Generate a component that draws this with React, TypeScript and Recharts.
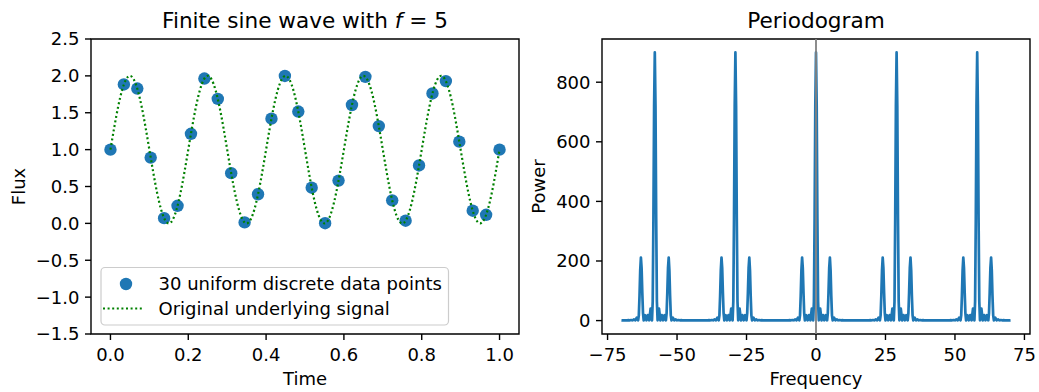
import React from 'react';
import {
  ComposedChart,
  LineChart,
  Line,
  Scatter,
  XAxis,
  YAxis,
  ReferenceLine,
  ReferenceArea,
} from 'recharts';

const FONT = "'DejaVu Sans', 'Liberation Sans', sans-serif";
const BLUE = '#1f77b4';
const GREEN = '#008000';

// ---------- Left panel: discrete samples ----------
const sampleTimes = [
  0, 0.0345, 0.069, 0.1034, 0.1379, 0.1724, 0.2069, 0.2414, 0.2759, 0.3103,
  0.3448, 0.3793, 0.4138, 0.4483, 0.4828, 0.5172, 0.5517, 0.5862, 0.6207, 0.6552,
  0.6897, 0.7241, 0.7586, 0.7931, 0.8276, 0.8621, 0.8966, 0.931, 0.9655, 1,
];
const sampleFlux = [
  1.0, 1.884, 1.828, 0.892, 0.071, 0.238, 1.215, 1.964, 1.688, 0.681,
  0.013, 0.395, 1.42, 1.999, 1.516, 0.484, 0.002, 0.58, 1.605, 1.987,
  1.319, 0.312, 0.036, 0.785, 1.762, 1.929, 1.108, 0.172, 0.116, 1.0,
];

// ---------- Left panel: underlying signal ----------
const signalTimes = [
  0, 0.01, 0.02, 0.03, 0.04, 0.05, 0.06, 0.07, 0.08, 0.09,
  0.1, 0.11, 0.12, 0.13, 0.14, 0.15, 0.16, 0.17, 0.18, 0.19,
  0.2, 0.21, 0.22, 0.23, 0.24, 0.25, 0.26, 0.27, 0.28, 0.29,
  0.3, 0.31, 0.32, 0.33, 0.34, 0.35, 0.36, 0.37, 0.38, 0.39,
  0.4, 0.41, 0.42, 0.43, 0.44, 0.45, 0.46, 0.47, 0.48, 0.49,
  0.5, 0.51, 0.52, 0.53, 0.54, 0.55, 0.56, 0.57, 0.58, 0.59,
  0.6, 0.61, 0.62, 0.63, 0.64, 0.65, 0.66, 0.67, 0.68, 0.69,
  0.7, 0.71, 0.72, 0.73, 0.74, 0.75, 0.76, 0.77, 0.78, 0.79,
  0.8, 0.81, 0.82, 0.83, 0.84, 0.85, 0.86, 0.87, 0.88, 0.89,
  0.9, 0.91, 0.92, 0.93, 0.94, 0.95, 0.96, 0.97, 0.98, 0.99,
  1.0,
];
const signalFlux = [
  1, 1.309, 1.588, 1.809, 1.951, 2, 1.951, 1.809, 1.588, 1.309,
  1, 0.691, 0.412, 0.191, 0.049, 0, 0.049, 0.191, 0.412, 0.691,
  1, 1.309, 1.588, 1.809, 1.951, 2, 1.951, 1.809, 1.588, 1.309,
  1, 0.691, 0.412, 0.191, 0.049, 0, 0.049, 0.191, 0.412, 0.691,
  1, 1.309, 1.588, 1.809, 1.951, 2, 1.951, 1.809, 1.588, 1.309,
  1, 0.691, 0.412, 0.191, 0.049, 0, 0.049, 0.191, 0.412, 0.691,
  1, 1.309, 1.588, 1.809, 1.951, 2, 1.951, 1.809, 1.588, 1.309,
  1, 0.691, 0.412, 0.191, 0.049, 0, 0.049, 0.191, 0.412, 0.691,
  1, 1.309, 1.588, 1.809, 1.951, 2, 1.951, 1.809, 1.588, 1.309,
  1, 0.691, 0.412, 0.191, 0.049, 0, 0.049, 0.191, 0.412, 0.691,
  1,
];

const timeTicks = [0, 0.2, 0.4, 0.6, 0.8, 1.0];
const fluxTicks = [-1.5, -1, -0.5, 0, 0.5, 1, 1.5, 2, 2.5];

// ---------- Right panel: periodogram ----------
const freqM58 = [
  -70, -69.5, -68.5, -68, -67.5, -67, -66.5, -66, -65.5, -65, -64.5, -64,
  -63.75, -63.5, -63.25, -63, -62.75, -62.5, -62.25, -62,
  -61.5, -61, -60.5, -60, -59.5, -59, -58.75, -58.5, -58.25,
  -58,
  -57.75, -57.5, -57.25, -57, -56.5, -56, -55.5, -55, -54.5,
  -54, -53.75, -53.5, -53.25, -53, -52.75, -52.5, -52.25,
  -52, -51.5, -51, -50.5, -50, -49.5, -49, -48.5, -48, -47.5, -46.5, -45.5, -44.5, -43.5,
];
const powerM58 = [
  1, 0.6, 0.8, 1, 1.3, 1, 2, 1, 3.8, 1, 9.7, 1,
  17.6, 83, 169.1, 211.3, 175.9, 94.2, 25.4, 1,
  18.1, 1, 18.2, 1, 40.6, 1, 65, 343, 720,
  900,
  720, 343, 65, 1, 40.6, 1, 18.2, 1, 18.1,
  1, 25.4, 94.2, 175.9, 211.3, 169.1, 83, 17.6,
  1, 9.7, 1, 3.8, 1, 2, 1, 1.3, 1, 0.8, 0.6, 0.5, 0.4, 0.4,
];
const freqM29 = [
  -42.5, -41.5, -40.5, -39.5, -39, -38.5, -38, -37.5, -37, -36.5, -36, -35.5, -35,
  -34.75, -34.5, -34.25, -34, -33.75, -33.5, -33.25, -33,
  -32.5, -32, -31.5, -31, -30.5, -30, -29.75, -29.5, -29.25,
  -29,
  -28.75, -28.5, -28.25, -28, -27.5, -27, -26.5, -26, -25.5,
  -25, -24.75, -24.5, -24.25, -24, -23.75, -23.5, -23.25,
  -23, -22.5, -22, -21.5, -21, -20.5, -20, -19.5, -19, -18.5, -17.5, -16.5, -15.5, -14.5,
];
const powerM29 = [
  0.4, 0.5, 0.6, 0.8, 1, 1.3, 1, 2, 1, 3.8, 1, 9.7, 1,
  17.6, 83, 169.1, 211.3, 175.9, 94.2, 25.4, 1,
  18.1, 1, 18.2, 1, 40.6, 1, 65, 343, 720,
  900,
  720, 343, 65, 1, 40.6, 1, 18.2, 1, 18.1,
  1, 25.4, 94.2, 175.9, 211.3, 169.1, 83, 17.6,
  1, 9.7, 1, 3.8, 1, 2, 1, 1.3, 1, 0.8, 0.6, 0.5, 0.4, 0.4,
];
const freqZero = [
  -13.5, -12.5, -11.5, -10.5, -10, -9.5, -9, -8.5, -8, -7.5, -7, -6.5, -6,
  -5.75, -5.5, -5.25, -5, -4.75, -4.5, -4.25, -4,
  -3.5, -3, -2.5, -2, -1.5, -1, -0.75, -0.5, -0.25,
  0,
  0.25, 0.5, 0.75, 1, 1.5, 2, 2.5, 3, 3.5,
  4, 4.25, 4.5, 4.75, 5, 5.25, 5.5, 5.75,
  6, 6.5, 7, 7.5, 8, 8.5, 9, 9.5, 10, 10.5, 11.5, 12.5, 13.5, 14.5,
];
const powerZero = [
  0.4, 0.5, 0.6, 0.8, 1, 1.3, 1, 2, 1, 3.8, 1, 9.7, 1,
  17.6, 83, 169.1, 211.3, 175.9, 94.2, 25.4, 1,
  18.1, 1, 18.2, 1, 40.6, 1, 65, 343, 720,
  900,
  720, 343, 65, 1, 40.6, 1, 18.2, 1, 18.1,
  1, 25.4, 94.2, 175.9, 211.3, 169.1, 83, 17.6,
  1, 9.7, 1, 3.8, 1, 2, 1, 1.3, 1, 0.8, 0.6, 0.5, 0.4, 0.4,
];
const freqP29 = [
  15.5, 16.5, 17.5, 18.5, 19, 19.5, 20, 20.5, 21, 21.5, 22, 22.5, 23,
  23.25, 23.5, 23.75, 24, 24.25, 24.5, 24.75, 25,
  25.5, 26, 26.5, 27, 27.5, 28, 28.25, 28.5, 28.75,
  29,
  29.25, 29.5, 29.75, 30, 30.5, 31, 31.5, 32, 32.5,
  33, 33.25, 33.5, 33.75, 34, 34.25, 34.5, 34.75,
  35, 35.5, 36, 36.5, 37, 37.5, 38, 38.5, 39, 39.5, 40.5, 41.5, 42.5, 43.5,
];
const powerP29 = [
  0.4, 0.5, 0.6, 0.8, 1, 1.3, 1, 2, 1, 3.8, 1, 9.7, 1,
  17.6, 83, 169.1, 211.3, 175.9, 94.2, 25.4, 1,
  18.1, 1, 18.2, 1, 40.6, 1, 65, 343, 720,
  900,
  720, 343, 65, 1, 40.6, 1, 18.2, 1, 18.1,
  1, 25.4, 94.2, 175.9, 211.3, 169.1, 83, 17.6,
  1, 9.7, 1, 3.8, 1, 2, 1, 1.3, 1, 0.8, 0.6, 0.5, 0.4, 0.4,
];
const freqP58 = [
  44.5, 45.5, 46.5, 47.5, 48, 48.5, 49, 49.5, 50, 50.5, 51, 51.5, 52,
  52.25, 52.5, 52.75, 53, 53.25, 53.5, 53.75, 54,
  54.5, 55, 55.5, 56, 56.5, 57, 57.25, 57.5, 57.75,
  58,
  58.25, 58.5, 58.75, 59, 59.5, 60, 60.5, 61, 61.5,
  62, 62.25, 62.5, 62.75, 63, 63.25, 63.5, 63.75,
  64, 64.5, 65, 65.5, 66, 66.5, 67, 67.5, 68, 68.5, 69.5, 70,
];
const powerP58 = [
  0.4, 0.5, 0.6, 0.8, 1, 1.3, 1, 2, 1, 3.8, 1, 9.7, 1,
  17.6, 83, 169.1, 211.3, 175.9, 94.2, 25.4, 1,
  18.1, 1, 18.2, 1, 40.6, 1, 65, 343, 720,
  900,
  720, 343, 65, 1, 40.6, 1, 18.2, 1, 18.1,
  1, 25.4, 94.2, 175.9, 211.3, 169.1, 83, 17.6,
  1, 9.7, 1, 3.8, 1, 2, 1, 1.3, 1, 0.8, 0.6, 1,
];

const freqTicks = [-75, -50, -25, 0, 25, 50, 75];
const powerTicks = [0, 200, 400, 600, 800];

// ---------- assembled tables ----------
const samples = sampleTimes.map((t, i) => ({ t, flux: sampleFlux[i] }));
const signal = signalTimes.map((t, i) => ({ t, flux: signalFlux[i] }));
const periodogram = [
  [freqM58, powerM58],
  [freqM29, powerM29],
  [freqZero, powerZero],
  [freqP29, powerP29],
  [freqP58, powerP58],
].flatMap(([fs, ps]) => fs.map((f, i) => ({ f, p: ps[i] })));

const minus = (v: number, digits: number) =>
  (v < 0 ? '\u2212' : '') + Math.abs(v).toFixed(digits);

const tickStyle = { fontSize: 18, fill: '#000', fontFamily: FONT };
const tickLineStyle = { stroke: '#000', strokeWidth: 1.4 };

const SampleDot = (props: any) => {
  const { cx, cy } = props;
  if (cx == null || cy == null) return null;
  return <circle cx={cx} cy={cy} r={6.2} fill={BLUE} />;
};

export default function App() {
  return (
    <div
      style={{
        position: 'absolute',
        left: 0,
        top: 0,
        width: 1039,
        height: 392,
        background: '#fff',
        overflow: 'hidden',
      }}
    >
      <div style={{ position: 'absolute', left: 0, top: 0 }}>
        <ComposedChart
          width={520}
          height={392}
          margin={{ top: 39, right: 1, bottom: 28, left: 31 }}
        >
          <XAxis
            dataKey="t"
            type="number"
            domain={[-0.05, 1.05]}
            ticks={timeTicks}
            allowDataOverflow
            tickFormatter={(v: number) => minus(v, 1)}
            tick={tickStyle}
            tickLine={tickLineStyle}
            axisLine={false}
            tickSize={6}
            tickMargin={8}
            height={30}
            interval={0}
          />
          <YAxis
            type="number"
            domain={[-1.5, 2.5]}
            ticks={fluxTicks}
            allowDataOverflow
            tickFormatter={(v: number) => minus(v, 1)}
            tick={tickStyle}
            tickLine={tickLineStyle}
            axisLine={false}
            tickSize={6}
            tickMargin={5.5}
            width={60}
            interval={0}
          />
          <ReferenceArea
            x1={-0.05}
            x2={1.05}
            y1={-1.5}
            y2={2.5}
            fill="none"
            stroke="#000"
            strokeWidth={1.4}
          />
          <Scatter
            data={samples}
            dataKey="flux"
            shape={SampleDot}
            isAnimationActive={false}
          />
          <Line
            data={signal}
            dataKey="flux"
            type="natural"
            stroke={GREEN}
            strokeWidth={2.2}
            strokeDasharray="2 2.6"
            dot={false}
            activeDot={false}
            isAnimationActive={false}
            zIndex={700}
          />
        </ComposedChart>
      </div>

      <div style={{ position: 'absolute', left: 520, top: 0 }}>
        <LineChart
          width={519}
          height={392}
          data={periodogram}
          margin={{ top: 39, right: 9, bottom: 28, left: 22 }}
        >
          <XAxis
            dataKey="f"
            type="number"
            domain={[-77, 77]}
            ticks={freqTicks}
            allowDataOverflow
            tickFormatter={(v: number) => minus(v, 0)}
            tick={tickStyle}
            tickLine={tickLineStyle}
            axisLine={false}
            tickSize={6}
            tickMargin={8}
            height={30}
            interval={0}
          />
          <YAxis
            type="number"
            domain={[-45, 945]}
            ticks={powerTicks}
            allowDataOverflow
            tickFormatter={(v: number) => minus(v, 0)}
            tick={tickStyle}
            tickLine={tickLineStyle}
            axisLine={false}
            tickSize={6}
            tickMargin={5.5}
            width={60}
            interval={0}
          />
          <ReferenceArea
            x1={-77}
            x2={77}
            y1={-45}
            y2={945}
            fill="none"
            stroke="#000"
            strokeWidth={1.4}
          />
          <Line
            dataKey="p"
            type="linear"
            stroke={BLUE}
            strokeWidth={2.7}
            strokeLinejoin="round"
            dot={false}
            activeDot={false}
            isAnimationActive={false}
          />
          <ReferenceLine x={0} stroke="#808080" strokeWidth={1.8} zIndex={800} />
        </LineChart>
      </div>

      <svg
        width={1039}
        height={392}
        style={{ position: 'absolute', left: 0, top: 0, pointerEvents: 'none' }}
        fontFamily={FONT}
      >
        <text x={305} y={28} fontSize={21.6} textAnchor="middle" fill="#000">
          Finite sine wave with <tspan fontStyle="italic">f</tspan> = 5
        </text>
        <text x={816} y={28} fontSize={21.6} textAnchor="middle" fill="#000">
          Periodogram
        </text>
        <text x={305} y={385} fontSize={18} textAnchor="middle" fill="#000">
          Time
        </text>
        <text x={816} y={385} fontSize={18} textAnchor="middle" fill="#000">
          Frequency
        </text>
        <text
          x={25}
          y={186.5}
          fontSize={18}
          textAnchor="middle"
          fill="#000"
          transform="rotate(-90 25 186.5)"
        >
          Flux
        </text>
        <text
          x={545}
          y={186.5}
          fontSize={18}
          textAnchor="middle"
          fill="#000"
          transform="rotate(-90 545 186.5)"
        >
          Power
        </text>

        <g>
          <rect
            x={101}
            y={267.5}
            width={347.5}
            height={57.5}
            rx={4}
            fill="#fff"
            fillOpacity={0.8}
            stroke="#cccccc"
            strokeWidth={1.2}
          />
          <circle cx={126} cy={284} r={6.2} fill={BLUE} />
          <text x={158.5} y={290} fontSize={18} fill="#000">
            30 uniform discrete data points
          </text>
          <line
            x1={103}
            x2={144}
            y1={308.5}
            y2={308.5}
            stroke={GREEN}
            strokeWidth={2.2}
            strokeDasharray="2 2.6"
          />
          <text x={158.5} y={315} fontSize={18} fill="#000">
            Original underlying signal
          </text>
        </g>
      </svg>
    </div>
  );
}
